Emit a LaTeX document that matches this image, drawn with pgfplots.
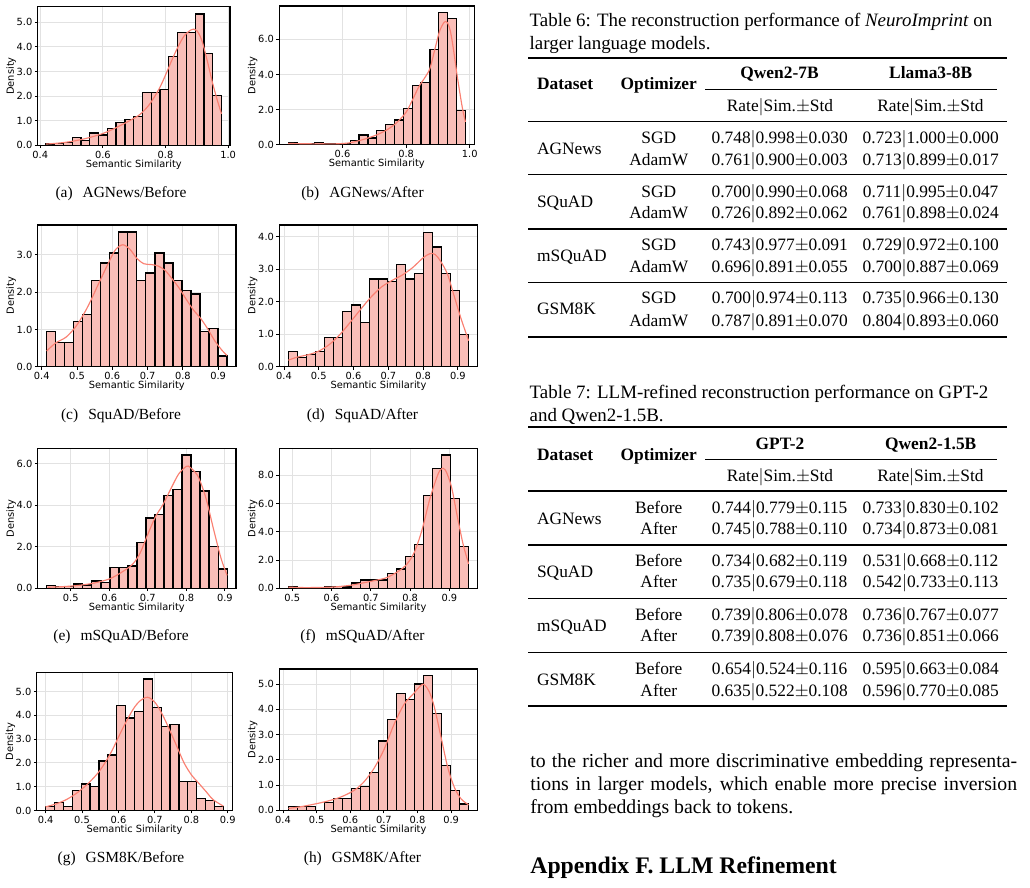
\documentclass[border=0pt]{standalone}
\usepackage{fontspec}
\setmainfont{Liberation Serif}
\newfontfamily\plotfont{DejaVu Sans}
\usepackage{pgfplots}
\pgfplotsset{compat=1.18}

\definecolor{barfill}{RGB}{250,190,184}
\definecolor{kdeline}{RGB}{250,128,114}
\definecolor{gridc}{RGB}{226,226,226}

\pgfplotsset{
  hist/.style={
    scale only axis,
    anchor=north west,
    axis line style={black, line width=0.65pt},
    grid=major,
    major grid style={gridc, line width=0.45pt},
    tick align=outside,
    tick pos=left,
    major tick length=1.5pt,
    tick style={black, line width=0.45pt},
    ymin=0,
    xticklabel style={/pgf/number format/.cd, fixed, fixed zerofill, precision=1, assume math mode=true},
    yticklabel style={/pgf/number format/.cd, fixed, fixed zerofill, precision=1, assume math mode=true},
    tick label style={font=\plotfont\fontsize{5.1}{6.1}\selectfont, inner sep=1.1pt},
    label style={font=\plotfont\fontsize{5.1}{6.1}\selectfont},
    xlabel={Semantic Similarity},
    ylabel={Density},
    xlabel style={at={(axis description cs:0.5,0)}, anchor=center, yshift=-10.05pt},
  },
  bars/.style={ybar interval, fill=barfill, draw=black, line width=0.65pt},
  kde/.style={kdeline, line width=0.6pt, smooth, mark=none},
}

\tikzset{
  tx/.style={anchor=base, inner sep=0pt, font=\fontsize{9}{11}\selectfont},
  txl/.style={anchor=base west, inner sep=0pt, font=\fontsize{9}{11}\selectfont},
  captxt/.style={anchor=base west, inner sep=0pt, font=\fontsize{9.8}{12}\selectfont},
  bodytxt/.style={anchor=base west, inner sep=0pt, font=\fontsize{10.24}{12.3}\selectfont},
  sub/.style={anchor=base, inner sep=0pt, font=\fontsize{8}{9.6}\selectfont},
}
% a result cell, and one body row of a results table
\newcommand\res[3]{#1$|$#2$\pm$#3}
\newcommand\trow[4]{%
  \node[tx] at (658.8,#1) {#2};
  \node[tx] at (779.7,#1) {#3};
  \node[tx] at (930.7,#1) {#4};}

\begin{document}
\begin{tikzpicture}[x=0.5181pt, y=-0.5181pt]
\path[use as bounding box] (0,0) rectangle (1030,887);

\coordinate (A) at (37.7,6.7);
\coordinate (B) at (279.3,6.0);
\coordinate (C) at (37.7,225.0);
\coordinate (D) at (279.3,225.0);
\coordinate (E) at (37.7,448.3);
\coordinate (F) at (279.3,448.3);
\coordinate (G) at (36.7,672.3);
\coordinate (H) at (279.3,669.0);

% (a) AGNews / Before
\begin{axis}[hist, at={(A)}, width=99.63pt, height=71.81pt,
  xmin=0.392, xmax=1.006, ymax=5.63,
  xtick={0.4,0.6,0.8,1.0}, ytick={0,1,2,3,4,5},
  ylabel style={at={(axis description cs:-0.138,0.5)}, anchor=center}]
\addplot[bars] coordinates {
 (0.4180,0.05) (0.4461,0.06) (0.4741,0.12) (0.5022,0.32) (0.5302,0.20)
 (0.5583,0.50) (0.5863,0.42) (0.6144,0.68) (0.6424,0.92) (0.6705,1.06)
 (0.6985,1.17) (0.7266,2.15) (0.7546,2.15) (0.7827,2.26) (0.8107,3.60)
 (0.8388,4.58) (0.8668,4.58) (0.8949,5.33) (0.9229,3.74) (0.9510,2.02)
 (0.9790,0)};
\addplot[kde] coordinates {
 (0.418,0.05) (0.45,0.08) (0.48,0.12) (0.51,0.18) (0.54,0.26) (0.57,0.36)
 (0.60,0.48) (0.63,0.64) (0.66,0.83) (0.69,1.03) (0.72,1.27) (0.75,1.68)
 (0.78,2.30) (0.80,2.85) (0.82,3.45) (0.84,4.00) (0.86,4.45) (0.88,4.68)
 (0.89,4.72) (0.90,4.66) (0.91,4.45) (0.92,4.10) (0.935,3.35) (0.95,2.55)
 (0.965,1.85) (0.979,1.28)};
\end{axis}

% (b) AGNews / After
\begin{axis}[hist, at={(B)}, width=101.03pt, height=71.86pt,
  xmin=0.401, xmax=1.0145, ymax=7.9,
  xtick={0.6,0.8,1.0}, ytick={0,2,4,6},
  ylabel style={at={(axis description cs:-0.136,0.5)}, anchor=center}]
\addplot[bars] coordinates {
 (0.4290,0.13) (0.4569,0.06) (0.4848,0.04) (0.5126,0.13) (0.5405,0.06)
 (0.5684,0.04) (0.5963,0.08) (0.6242,0.25) (0.6520,0.55) (0.6799,0.38)
 (0.7078,0.80) (0.7357,1.16) (0.7636,1.40) (0.7914,2.07) (0.8193,3.38)
 (0.8472,3.55) (0.8751,5.41) (0.9030,7.52) (0.9308,7.18) (0.9587,1.96)
 (0.9866,0)};
\addplot[kde] coordinates {
 (0.429,0.07) (0.46,0.06) (0.50,0.05) (0.54,0.05) (0.58,0.05) (0.62,0.10)
 (0.65,0.22) (0.68,0.38) (0.71,0.58) (0.74,0.85) (0.77,1.25) (0.80,1.85)
 (0.82,2.55) (0.84,3.30) (0.86,3.85) (0.875,4.35) (0.89,5.40) (0.905,6.45)
 (0.92,6.98) (0.93,6.95) (0.94,6.40) (0.95,5.30) (0.96,4.00) (0.97,2.85)
 (0.978,2.00) (0.9866,1.30)};
\end{axis}

% (c) SQuAD / Before
\begin{axis}[hist, at={(C)}, width=102.74pt, height=73.41pt,
  xmin=0.3887, xmax=0.9505, ymax=3.80,
  xtick={0.4,0.5,0.6,0.7,0.8,0.9}, ytick={0,1,2,3},
  ylabel style={at={(axis description cs:-0.134,0.5)}, anchor=center}]
\addplot[bars] coordinates {
 (0.4142,0.94) (0.4397,0.65) (0.4653,0.65) (0.4908,1.21) (0.5164,1.41)
 (0.5419,2.32) (0.5674,2.78) (0.5930,3.05) (0.6185,3.61) (0.6441,3.61)
 (0.6696,2.32) (0.6951,2.51) (0.7207,3.05) (0.7462,2.78) (0.7718,2.32)
 (0.7973,2.05) (0.8228,1.95) (0.8484,0.94) (0.8739,1.02) (0.8995,0.29)
 (0.9250,0)};
\addplot[kde] coordinates {
 (0.414,0.42) (0.44,0.64) (0.47,0.80) (0.50,1.12) (0.53,1.60) (0.56,2.20)
 (0.59,2.80) (0.61,3.15) (0.63,3.27) (0.65,3.15) (0.67,2.90) (0.69,2.76)
 (0.71,2.74) (0.73,2.70) (0.75,2.58) (0.77,2.35) (0.79,2.10) (0.81,1.80)
 (0.83,1.52) (0.85,1.30) (0.87,1.02) (0.89,0.70) (0.91,0.45) (0.925,0.30)};
\end{axis}

% (d) SQuAD / After
\begin{axis}[hist, at={(D)}, width=102.79pt, height=73.41pt,
  xmin=0.3865, xmax=0.957, ymax=4.36,
  xtick={0.4,0.5,0.6,0.7,0.8,0.9}, ytick={0,1,2,3,4},
  ylabel style={at={(axis description cs:-0.134,0.5)}, anchor=center}]
\addplot[bars] coordinates {
 (0.4124,0.46) (0.4384,0.28) (0.4643,0.37) (0.4903,0.46) (0.5162,0.90)
 (0.5422,0.90) (0.5681,1.70) (0.5941,1.90) (0.6200,1.35) (0.6460,2.70)
 (0.6719,2.70) (0.6979,2.62) (0.7238,3.15) (0.7498,2.70) (0.7757,2.87)
 (0.8017,4.13) (0.8276,3.68) (0.8536,2.87) (0.8795,2.34) (0.9055,0.99)
 (0.9314,0)};
\addplot[kde] coordinates {
 (0.412,0.20) (0.44,0.30) (0.47,0.37) (0.50,0.48) (0.53,0.68) (0.56,0.98)
 (0.59,1.36) (0.62,1.76) (0.65,2.14) (0.68,2.45) (0.71,2.65) (0.74,2.82)
 (0.77,3.05) (0.80,3.35) (0.82,3.48) (0.835,3.45) (0.85,3.25) (0.87,2.85)
 (0.89,2.15) (0.91,1.45) (0.931,0.80)};
\end{axis}

% (e) mSQuAD / Before
\begin{axis}[hist, at={(E)}, width=102.74pt, height=72.53pt,
  xmin=0.414, xmax=0.929, ymax=6.74,
  xtick={0.5,0.6,0.7,0.8,0.9}, ytick={0,2,4,6},
  ylabel style={at={(axis description cs:-0.134,0.5)}, anchor=center}]
\addplot[bars] coordinates {
 (0.4375,0.14) (0.4609,0.08) (0.4844,0.08) (0.5078,0.21) (0.5312,0.16)
 (0.5546,0.35) (0.5781,0.29) (0.6015,1.00) (0.6249,1.00) (0.6483,1.07)
 (0.6718,2.22) (0.6952,3.39) (0.7186,3.54) (0.7420,4.46) (0.7655,4.75)
 (0.7889,6.42) (0.8123,5.63) (0.8357,4.69) (0.8592,2.00) (0.8826,0.93)
 (0.9060,0)};
\addplot[kde] coordinates {
 (0.44,0.05) (0.48,0.08) (0.52,0.14) (0.56,0.25) (0.60,0.45) (0.63,0.75)
 (0.66,1.15) (0.68,1.70) (0.70,2.60) (0.72,3.45) (0.74,4.05) (0.76,4.80)
 (0.78,5.50) (0.80,5.87) (0.81,5.82) (0.83,5.40) (0.85,4.40) (0.87,2.90)
 (0.89,1.45) (0.906,0.62)};
\end{axis}

% (f) mSQuAD / After
\begin{axis}[hist, at={(F)}, width=102.79pt, height=72.53pt,
  xmin=0.467, xmax=0.972, ymax=9.9,
  xtick={0.5,0.6,0.7,0.8,0.9}, ytick={0,2,4,6,8},
  ylabel style={at={(axis description cs:-0.134,0.5)}, anchor=center}]
\addplot[bars] coordinates {
 (0.4899,0.14) (0.5129,0.04) (0.5358,0.04) (0.5588,0.04) (0.5817,0.14)
 (0.6047,0.14) (0.6276,0.10) (0.6506,0.38) (0.6735,0.59) (0.6965,0.59)
 (0.7194,0.59) (0.7424,1.06) (0.7653,1.36) (0.7883,2.26) (0.8112,3.10)
 (0.8342,6.56) (0.8571,8.45) (0.8801,9.43) (0.9030,6.33) (0.9260,2.94)
 (0.9489,0)};
\addplot[kde] coordinates {
 (0.49,0.08) (0.53,0.05) (0.57,0.06) (0.61,0.10) (0.65,0.22) (0.68,0.38)
 (0.71,0.55) (0.74,0.75) (0.77,1.20) (0.79,1.65) (0.81,2.50) (0.83,4.10)
 (0.85,6.30) (0.87,8.00) (0.88,8.45) (0.89,8.35) (0.905,7.20) (0.92,5.10)
 (0.935,3.10) (0.949,1.72)};
\end{axis}

% (g) GSM8K / Before
\begin{axis}[hist, at={(G)}, width=101.34pt, height=71.55pt,
  xmin=0.3756, xmax=0.9124, ymax=5.81,
  xtick={0.4,0.5,0.6,0.7,0.8,0.9}, ytick={0,1,2,3,4,5},
  ylabel style={at={(axis description cs:-0.135,0.5)}, anchor=center}]
\addplot[bars] coordinates {
 (0.4000,0.17) (0.4244,0.32) (0.4488,0.17) (0.4732,0.84) (0.4976,1.11)
 (0.5220,1.02) (0.5464,2.08) (0.5708,2.33) (0.5952,4.41) (0.6196,3.89)
 (0.6440,4.15) (0.6684,5.53) (0.6928,4.32) (0.7172,3.54) (0.7416,3.62)
 (0.7660,1.21) (0.7904,1.21) (0.8148,0.51) (0.8392,0.42) (0.8636,0.17)
 (0.8880,0)};
\addplot[kde] coordinates {
 (0.40,0.15) (0.43,0.28) (0.46,0.48) (0.49,0.78) (0.52,1.18) (0.55,1.70)
 (0.58,2.45) (0.61,3.40) (0.64,4.25) (0.66,4.62) (0.68,4.76) (0.70,4.55)
 (0.72,4.05) (0.74,3.40) (0.76,2.70) (0.78,2.00) (0.80,1.50) (0.82,1.15)
 (0.84,0.80) (0.86,0.45) (0.888,0.18)};
\end{axis}

% (h) GSM8K / After
\begin{axis}[hist, at={(H)}, width=102.79pt, height=73.26pt,
  xmin=0.389, xmax=0.979, ymax=5.6,
  xtick={0.4,0.5,0.6,0.7,0.8,0.9}, ytick={0,1,2,3,4,5},
  ylabel style={at={(axis description cs:-0.134,0.5)}, anchor=center}]
\addplot[bars] coordinates {
 (0.4160,0.16) (0.4428,0.16) (0.4696,0.16) (0.4964,0.00) (0.5232,0.31)
 (0.5500,0.47) (0.5768,0.47) (0.6036,0.86) (0.6304,0.94) (0.6572,1.49)
 (0.6840,2.75) (0.7108,3.60) (0.7376,4.62) (0.7644,4.40) (0.7912,5.01)
 (0.8180,5.33) (0.8448,3.84) (0.8716,1.79) (0.8984,0.78) (0.9252,0.25)
 (0.9520,0)};
\addplot[kde] coordinates {
 (0.416,0.08) (0.45,0.14) (0.49,0.24) (0.53,0.36) (0.57,0.52) (0.61,0.78)
 (0.64,1.12) (0.67,1.65) (0.70,2.40) (0.73,3.40) (0.76,4.20) (0.79,4.65)
 (0.81,4.95) (0.82,4.98) (0.835,4.70) (0.85,4.10) (0.87,2.90) (0.89,1.70)
 (0.91,0.90) (0.93,0.45) (0.952,0.22)};
\end{axis}

% sub-figure captions
\node[sub] at (121,197.5) {(a)\hspace{0.65em}AGNews/Before};
\node[sub] at (362.5,197.5) {(b)\hspace{0.65em}AGNews/After};
\node[sub] at (121,419) {(c)\hspace{0.65em}SquAD/Before};
\node[sub] at (362.5,419) {(d)\hspace{0.65em}SquAD/After};
\node[sub] at (121,640.5) {(e)\hspace{0.65em}mSQuAD/Before};
\node[sub] at (362.5,640.5) {(f)\hspace{0.65em}mSQuAD/After};
\node[sub] at (121,862.5) {(g)\hspace{0.65em}GSM8K/Before};
\node[sub] at (362.5,862.5) {(h)\hspace{0.65em}GSM8K/After};

% ---------------- Table 6 ----------------
\node[captxt] at (529.3,26.7) {Table 6: The reconstruction performance of \textit{NeuroImprint} on};
\node[captxt] at (529.3,49.5) {larger language models.};
\draw[line width=0.85pt] (528.3,57.7) -- (1006.7,57.7);
\node[txl] at (536.7,89.5) {\bfseries Dataset};
\node[tx] at (658.8,89.5) {\bfseries Optimizer};
\node[tx] at (779.5,78.7) {\bfseries Qwen2-7B};
\node[tx] at (930.7,78.7) {\bfseries Llama3-8B};
\draw[line width=0.5pt] (705,89.3) -- (996.7,89.3);
\node[tx] at (780,111.3) {Rate$|$Sim.$\pm$Std};
\node[tx] at (930.5,111.3) {Rate$|$Sim.$\pm$Std};
\draw[line width=0.6pt] (528.3,121.7) -- (1006.7,121.7);
\node[txl] at (536.7,154.3) {AGNews};
\trow{143.3}{SGD}{\res{0.748}{0.998}{0.030}}{\res{0.723}{1.000}{0.000}}
\trow{165.3}{AdamW}{\res{0.761}{0.900}{0.003}}{\res{0.713}{0.899}{0.017}}
\draw[line width=0.6pt] (528.3,174.3) -- (1006.7,174.3);
\node[txl] at (536.7,207.7) {SQuAD};
\trow{197.0}{SGD}{\res{0.700}{0.990}{0.068}}{\res{0.711}{0.995}{0.047}}
\trow{218.3}{AdamW}{\res{0.726}{0.892}{0.062}}{\res{0.761}{0.898}{0.024}}
\draw[line width=0.6pt] (528.3,229) -- (1006.7,229);
\node[txl] at (536.7,261) {mSQuAD};
\trow{250.3}{SGD}{\res{0.743}{0.977}{0.091}}{\res{0.729}{0.972}{0.100}}
\trow{272.0}{AdamW}{\res{0.696}{0.891}{0.055}}{\res{0.700}{0.887}{0.069}}
\draw[line width=0.6pt] (528.3,282.7) -- (1006.7,282.7);
\node[txl] at (536.7,314.5) {GSM8K};
\trow{303.7}{SGD}{\res{0.700}{0.974}{0.113}}{\res{0.735}{0.966}{0.130}}
\trow{326.0}{AdamW}{\res{0.787}{0.891}{0.070}}{\res{0.804}{0.893}{0.060}}
\draw[line width=0.85pt] (528.3,336.7) -- (1006.7,336.7);

% ---------------- Table 7 ----------------
\node[captxt] at (529.3,398.3) {Table 7: LLM-refined reconstruction performance on GPT-2};
\node[captxt] at (529.3,421) {and Qwen2-1.5B.};
\draw[line width=0.85pt] (528.3,427.3) -- (1006.7,427.3);
\node[txl] at (536.7,460.3) {\bfseries Dataset};
\node[tx] at (658.8,460.3) {\bfseries Optimizer};
\node[tx] at (780,449.3) {\bfseries GPT-2};
\node[tx] at (930.7,449.3) {\bfseries Qwen2-1.5B};
\draw[line width=0.5pt] (705,459.3) -- (996.7,459.3);
\node[tx] at (780,481) {Rate$|$Sim.$\pm$Std};
\node[tx] at (930.5,481) {Rate$|$Sim.$\pm$Std};
\draw[line width=0.6pt] (528.3,491) -- (1006.7,491);
\node[txl] at (536.7,524.3) {AGNews};
\trow{513.7}{Before}{\res{0.744}{0.779}{0.115}}{\res{0.733}{0.830}{0.102}}
\trow{534.3}{After}{\res{0.745}{0.788}{0.110}}{\res{0.734}{0.873}{0.081}}
\draw[line width=0.6pt] (528.3,545) -- (1006.7,545);
\node[txl] at (536.7,577.7) {SQuAD};
\trow{566.3}{Before}{\res{0.734}{0.682}{0.119}}{\res{0.531}{0.668}{0.112}}
\trow{587.7}{After}{\res{0.735}{0.679}{0.118}}{\res{0.542}{0.733}{0.113}}
\draw[line width=0.6pt] (528.3,598.3) -- (1006.7,598.3);
\node[txl] at (536.7,631) {mSQuAD};
\trow{620.3}{Before}{\res{0.739}{0.806}{0.078}}{\res{0.736}{0.767}{0.077}}
\trow{641.7}{After}{\res{0.739}{0.808}{0.076}}{\res{0.736}{0.851}{0.066}}
\draw[line width=0.6pt] (528.3,652.3) -- (1006.7,652.3);
\node[txl] at (536.7,685.3) {GSM8K};
\trow{674.3}{Before}{\res{0.654}{0.524}{0.116}}{\res{0.595}{0.663}{0.084}}
\trow{696.0}{After}{\res{0.635}{0.522}{0.108}}{\res{0.596}{0.770}{0.085}}
\draw[line width=0.85pt] (528.3,706.3) -- (1006.7,706.3);

% ---------------- body text ----------------
\node[bodytxt] at (530,767.3) {\makebox[252.2pt][s]{to the richer and more discriminative embedding representa-}};
\node[bodytxt] at (530,790.6) {\makebox[252.2pt][s]{tions in larger models, which enable more precise inversion}};
\node[bodytxt] at (530,813.9) {from embeddings back to tokens.};
\node[anchor=base west, inner sep=0pt, font=\fontsize{12.3}{14.5}\selectfont\bfseries] at (530,873.3) {Appendix F. LLM Refinement};
\end{tikzpicture}
\end{document}
